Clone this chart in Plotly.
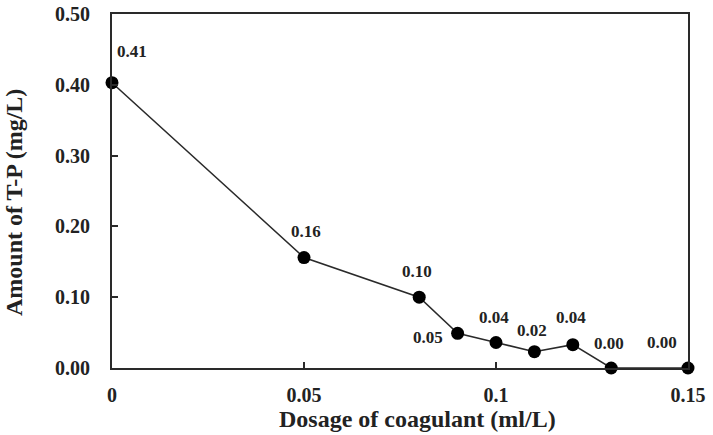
import plotly.graph_objects as go

dosage = [0, 0.05, 0.08, 0.09, 0.10, 0.11, 0.12, 0.13, 0.15]
amount = [0.403, 0.156, 0.100, 0.049, 0.036, 0.023, 0.033, 0.0, 0.0]
labels = ["0.41", "0.16", "0.10", "0.05", "0.04", "0.02", "0.04", "0.00", "0.00"]
x_ticks = [0, 0.05, 0.1, 0.15]
x_tick_text = ["0", "0.05", "0.1", "0.15"]
y_ticks = [0, 0.1, 0.2, 0.3, 0.4, 0.5]
y_tick_text = ["0.00", "0.10", "0.20", "0.30", "0.40", "0.50"]
x_title = "Dosage of coagulant (ml/L)"
y_title = "Amount of T-P (mg/L)"

# label pixel offsets (styling)
label_shift = [(20, 31), (2, 26), (-2, 26), (-30, -4), (-2, 25), (-2, 21), (-2, 27), (-2, 25), (-26, 26)]

FONT = "Liberation Serif, Times New Roman, DejaVu Serif, serif"
INK = "#222"

fig = go.Figure()
fig.add_trace(go.Scatter(
    x=dosage, y=amount, mode="lines+markers",
    line=dict(color="#2a2a2a", width=1.5),
    marker=dict(color="black", size=13),
    cliponaxis=False, showlegend=False,
))

for xv, yv, t, (dx, dy) in zip(dosage, amount, labels, label_shift):
    fig.add_annotation(x=xv, y=yv, text=f"<b>{t}</b>", showarrow=False,
                       xshift=dx, yshift=dy,
                       font=dict(family=FONT, size=17, color=INK))

# axis titles as annotations (positioned like the reference)
fig.add_annotation(xref="paper", yref="paper", x=0.5, y=0, xshift=17, yshift=-51,
                   text=f"<b>{x_title}</b>", showarrow=False, xanchor="center", yanchor="middle",
                   font=dict(family=FONT, size=24, color=INK))
fig.add_annotation(xref="paper", yref="paper", x=0, y=0.5, xshift=-98, yshift=-12,
                   text=f"<b>{y_title}</b>", showarrow=False, textangle=-90,
                   xanchor="center", yanchor="middle",
                   font=dict(family=FONT, size=24, color=INK))

axis_common = dict(showline=True, linecolor="#2a2a2a", linewidth=2, mirror=True,
                   showgrid=False, zeroline=False, ticks="inside", ticklen=6,
                   tickcolor="#2a2a2a", tickwidth=1.5, automargin=False,
                   ticklabeloverflow="allow",
                   tickfont=dict(family=FONT, size=20, color=INK))

fig.update_xaxes(range=[0, 0.15], tickvals=x_ticks, ticktext=[f"<b>{t}</b>" for t in x_tick_text],
                 ticklabelstandoff=8, **axis_common)
fig.update_yaxes(range=[0, 0.5], tickvals=y_ticks, ticktext=[f"<b>{t}</b>" for t in y_tick_text],
                 ticklabelstandoff=16, **axis_common)

fig.update_layout(width=713, height=435, margin=dict(l=112, r=25, t=14, b=67),
                  plot_bgcolor="white", paper_bgcolor="white")

fig.write_html("out.html")
